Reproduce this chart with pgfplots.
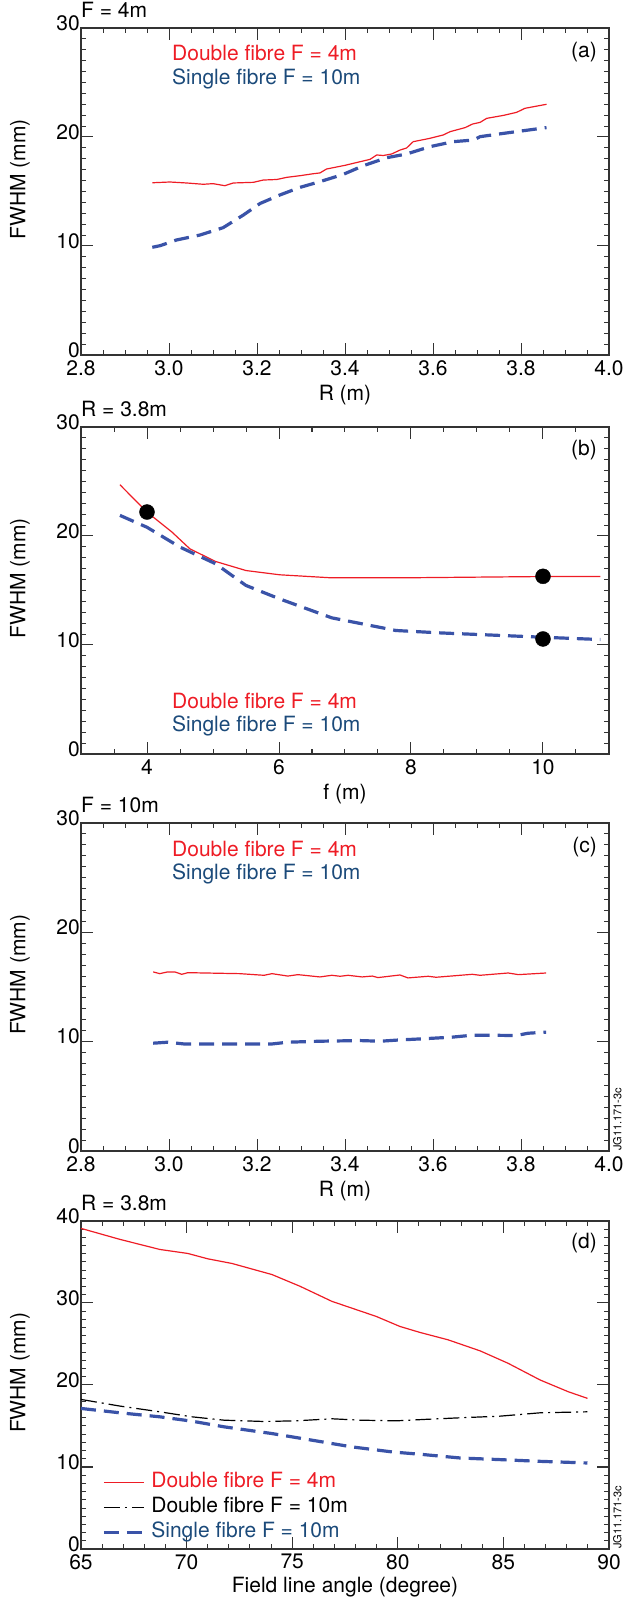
\documentclass[border=0pt]{standalone}
\usepackage{fontspec}
\setmainfont{TeX Gyre Heros}
\usepackage{pgfplots}
\pgfplotsset{compat=1.18}
\definecolor{cred}{HTML}{EE1C25}
\definecolor{cblue}{HTML}{3A53A8}
\definecolor{ctext}{HTML}{1B4A7A}
\newcommand{\bigf}{\fontsize{21}{25}\selectfont}
\newcommand{\smallf}{\fontsize{11}{13}\selectfont}

\pgfplotsset{
  myaxis/.style={
    scale only axis, width=528pt,
    axis line style={line width=1.3pt, black!80},
    every tick/.style={line width=1pt, black!80},
    major tick length=12pt, minor tick length=5pt,
    tick align=inside,
    tick label style={font=\bigf},
    /pgf/number format/assume math mode=true,
    xticklabel style={inner sep=0pt, yshift=-5pt},
    yticklabel style={inner sep=0pt, xshift=-1pt, yshift=5pt},
    label style={font=\bigf},
    xlabel style={at={(axis description cs:0.5,0)}, anchor=center, yshift=-40pt},
    ylabel style={at={(axis description cs:-0.1155,0.537)}, anchor=center},
    title style={at={(axis description cs:0,1)}, anchor=base west, yshift=4.5pt, inner sep=0pt, font=\bigf},
    ylabel={FWHM (mm)},
    clip=true, clip mode=individual,
  },
  Rx/.style={xmin=2.8, xmax=4.0, xtick={2.8,3.0,3.2,3.4,3.6,3.8,4.0}, minor x tick num=3,
    xticklabel style={/pgf/number format/.cd, fixed, fixed zerofill, precision=1}, xlabel={R (m)}},
  Y30/.style={ymin=0, ymax=30, ytick={0,10,20,30}, minor y tick num=9},
  redl/.style={cred, line width=1.2pt},
  bluel/.style={cblue, line width=3.2pt, dash pattern=on 15pt off 8pt},
  blackl/.style={black, line width=1.2pt, dash pattern=on 16pt off 5pt on 2pt off 5pt},
}

\begin{document}
\begin{tikzpicture}
\useasboundingbox (0pt,0pt) rectangle (627pt,1600pt);

% ---------------- (a)
\begin{axis}[myaxis, Rx, Y30, height=327pt, at={(81pt,1245pt)}, anchor=south west, title={F = 4m}]
\addplot[redl] coordinates {
(2.962,15.8) (3.002,15.87) (3.04,15.78) (3.078,15.66) (3.1,15.72) (3.127,15.53) (3.146,15.78) (3.192,15.84)
(3.214,16.05) (3.245,16.1) (3.268,16.3) (3.298,16.45) (3.328,16.63) (3.343,16.7) (3.358,17.06) (3.4,17.4)
(3.457,17.95) (3.472,18.35) (3.487,18.3) (3.506,18.44) (3.525,18.8) (3.54,18.99) (3.555,19.57) (3.59,19.85)
(3.623,20.18) (3.639,20.49) (3.673,20.86) (3.69,21.19) (3.707,21.34) (3.722,21.71) (3.76,21.98) (3.79,22.26)
(3.809,22.63) (3.858,23.0)};
\addplot[bluel] coordinates {
(2.962,9.88) (2.98,10.03) (3.017,10.55) (3.07,11.0) (3.123,11.68) (3.169,12.84) (3.207,13.9) (3.252,14.68)
(3.298,15.38) (3.343,15.9) (3.396,16.57) (3.442,17.37) (3.495,18.1) (3.54,18.44) (3.593,19.11) (3.646,19.57)
(3.692,19.72) (3.707,20.03) (3.76,20.33) (3.858,20.86)};
\node[anchor=west, inner sep=0pt, text=cred, font=\bigf] at ([yshift=-25pt]rel axis cs:0.1723,1) {Double fibre F = 4m};
\node[anchor=west, inner sep=0pt, text=ctext, font=\bigf] at ([yshift=-51pt]rel axis cs:0.1723,1) {Single fibre F = 10m};
\node[anchor=east, inner sep=0pt, font=\bigf] at ([xshift=-12pt,yshift=-24pt]rel axis cs:1,1) {(a)};
\end{axis}

% ---------------- (b)
\begin{axis}[myaxis, Y30, height=327pt, at={(81pt,846pt)}, anchor=south west, title={R = 3.8m},
  xmin=3, xmax=11, xtick={4,6,8,10}, minor xtick={3.5,4.5,5,5.5,6.5,7,7.5,8.5,9,9.5,10.5}, xlabel={f (m)}]
\addplot[redl] coordinates {
(3.59,24.7) (4.0,22.19) (4.38,20.35) (4.65,18.82) (5.04,17.66) (5.5,16.83) (6.01,16.44) (6.8,16.16)
(7.83,16.16) (10.0,16.28) (10.87,16.28)};
\addplot[bluel] coordinates {
(3.59,21.89) (4.0,20.8) (4.5,18.98) (5.04,17.45) (5.5,15.46) (6.01,14.23) (6.8,12.49) (7.77,11.33)
(8.44,11.11) (10.0,10.71) (10.87,10.5)};
\addplot[only marks, mark=*, mark size=7.5pt, black] coordinates {(4.0,22.2) (10.0,16.3) (10.0,10.55)};
\node[anchor=west, inner sep=0pt, text=cred, font=\bigf] at ([yshift=53pt]rel axis cs:0.1723,0) {Double fibre F = 4m};
\node[anchor=west, inner sep=0pt, text=ctext, font=\bigf] at ([yshift=28pt]rel axis cs:0.1723,0) {Single fibre F = 10m};
\node[anchor=east, inner sep=0pt, font=\bigf] at ([xshift=-12pt,yshift=-23pt]rel axis cs:1,1) {(b)};
\end{axis}

% ---------------- (c)
\begin{axis}[myaxis, Rx, Y30, height=328pt, at={(81pt,449pt)}, anchor=south west, title={F = 10m}]
\addplot[redl] coordinates {
(2.964,16.38) (2.979,16.22) (2.997,16.38) (3.013,16.38) (3.029,16.16) (3.043,16.31) (3.161,16.22) (3.216,16.07)
(3.234,16.22) (3.27,16.0) (3.293,16.13) (3.343,15.92) (3.37,16.07) (3.389,15.98) (3.407,16.07) (3.439,15.92)
(3.462,16.0) (3.475,15.86) (3.525,16.1) (3.543,15.83) (3.589,15.98) (3.607,15.89) (3.689,16.16) (3.707,16.07)
(3.771,16.28) (3.794,16.13) (3.857,16.28)};
\addplot[bluel] coordinates {
(2.964,9.86) (2.997,9.95) (3.034,9.79) (3.07,9.79) (3.234,9.79) (3.27,9.95) (3.343,10.04) (3.434,10.1)
(3.48,10.04) (3.525,10.16) (3.571,10.25) (3.643,10.41) (3.689,10.59) (3.725,10.59) (3.789,10.56) (3.816,10.77)
(3.857,10.87)};
\node[anchor=west, inner sep=0pt, text=cred, font=\bigf] at ([yshift=-26pt]rel axis cs:0.1723,1) {Double fibre F = 4m};
\node[anchor=west, inner sep=0pt, text=ctext, font=\bigf] at ([yshift=-51pt]rel axis cs:0.1723,1) {Single fibre F = 10m};
\node[anchor=east, inner sep=0pt, font=\bigf] at ([xshift=-12pt,yshift=-24pt]rel axis cs:1,1) {(c)};
\node[rotate=90, anchor=north west, inner sep=0pt, font=\smallf] at ([xshift=4pt]rel axis cs:1,0) {JG11.171-3c};
\end{axis}

% ---------------- (d)
\begin{axis}[myaxis, height=328pt, at={(81pt,51pt)}, anchor=south west, title={R = 3.8m},
  xmin=65, xmax=90, xtick={65,70,75,80,85,90}, minor x tick num=4,
  ymin=0, ymax=40, ytick={0,10,20,30,40}, minor y tick num=9,
  xlabel={Field line angle (degree)}, xlabel style={yshift=2pt},
  legend image code/.code={\draw[#1] (0pt,0pt) -- (40pt,0pt);},
  legend style={at={(axis description cs:0,0)}, anchor=south west, xshift=21pt, yshift=3.5pt,
    draw=none, fill=none, inner sep=0pt, row sep=0pt, column sep=6pt, font=\bigf,
    nodes={inner xsep=0pt, inner ysep=2.5pt, text height=15pt, text depth=5pt}},
  legend cell align=left]
\addplot[redl] coordinates {
(65,39.1) (66.84,37.76) (68.73,36.53) (70.06,36.04) (71.0,35.39) (72.15,34.82) (74.04,33.47) (75.37,32.04)
(76.88,30.2) (78.97,28.37) (80.1,27.14) (81.05,26.41) (82.38,25.51) (83.9,24.16) (85.22,22.65) (86.74,20.61)
(88.07,19.18) (88.98,18.37)};
\addlegendentry[text=cred]{Double fibre F = 4m}
\addplot[blackl] coordinates {
(65,18.24) (66.84,17.43) (68.73,16.73) (70.25,16.12) (71.77,15.71) (73.66,15.55) (75.18,15.63) (76.88,15.88)
(78.21,15.71) (79.92,15.63) (81.24,15.8) (82.95,16.0) (84.84,16.2) (86.74,16.61) (88.98,16.73)};
\addlegendentry[text=black]{Double fibre F = 10m}
\addplot[bluel] coordinates {
(65,17.14) (66.84,16.61) (68.73,16.12) (70.25,15.59) (71.77,14.9) (74.04,14.08) (75.94,13.27) (77.83,12.45)
(79.73,11.84) (81.24,11.51) (82.95,11.1) (84.84,10.9) (86.74,10.69) (88.98,10.49)};
\addlegendentry[text=ctext]{Single fibre F = 10m}
\node[anchor=east, inner sep=0pt, font=\bigf] at ([xshift=-12pt,yshift=-22pt]rel axis cs:1,1) {(d)};
\node[rotate=90, anchor=north west, inner sep=0pt, font=\smallf] at ([xshift=4pt]rel axis cs:1,0) {JG11.171-3c};
\end{axis}
\end{tikzpicture}
\end{document}
